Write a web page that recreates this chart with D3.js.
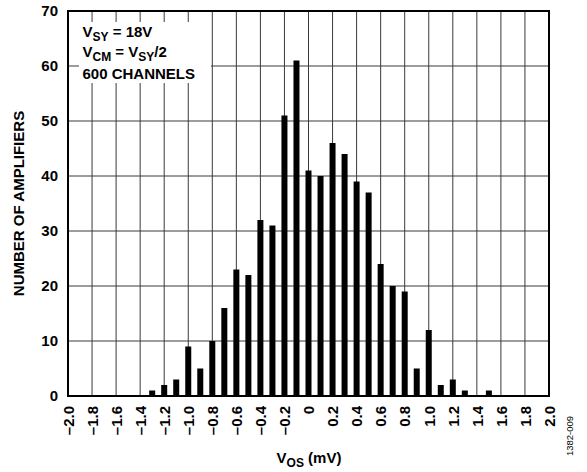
<!DOCTYPE html>
<html lang="en">
<head>
  <meta charset="UTF-8">
  <title>VOS distribution</title>
  <script src="https://cdn.jsdelivr.net/npm/d3@7"></script>
</head>
<body style="margin:0; background-color:#FFFFFF;">
<script>
  // bin centres (mV) and counts
  const vosBins = [-1.3, -1.2, -1.1, -1.0, -0.9, -0.8, -0.7, -0.6, -0.5, -0.4, -0.3, -0.2, -0.1,
    0, 0.1, 0.2, 0.3, 0.4, 0.5, 0.6, 0.7, 0.8, 0.9, 1.0, 1.1, 1.2, 1.3, 1.4, 1.5];
  const counts = [1, 2, 3, 9, 5, 10, 16, 23, 22, 32, 31, 51, 61,
    41, 40, 46, 44, 39, 37, 24, 20, 19, 5, 12, 2, 3, 1, 0, 1];
  const xTicks = [-2.0, -1.8, -1.6, -1.4, -1.2, -1.0, -0.8, -0.6, -0.4, -0.2, 0, 0.2, 0.4, 0.6, 0.8, 1.0, 1.2, 1.4, 1.6, 1.8, 2.0];
  const yTicks = [0, 10, 20, 30, 40, 50, 60, 70];
  const noteLines = [
    [["V", ""], ["SY", "sub"], [" = 18V", ""]],
    [["V", ""], ["CM", "sub"], [" = V", ""], ["SY", "sub"], ["/2", ""]],
    [["600 CHANNELS", ""]]
  ];

  const width = 587, height = 472;
  const pLeft = 68, pRight = 549, pTop = 11, pBottom = 396;
  const font = "'Liberation Sans', Arial, sans-serif";

  const xScale = d3.scaleLinear().domain([-2, 2]).range([pLeft, pRight]);
  const yScale = d3.scaleLinear().domain([0, 70]).range([pBottom, pTop]);
  const fmt = d => d === 0 ? "0" : (d < 0 ? "\u2013" : "") + d3.format(".1f")(Math.abs(d));

  const svg = d3.select("body")
    .append("svg")
    .attr("width", width)
    .attr("height", height)
    .style("display", "block")
    .style("background-color", "#FFFFFF");

  // grid
  svg.append("g")
    .selectAll("line")
    .data(xTicks.slice(1, -1))
    .enter()
    .append("line")
    .attr("x1", d => xScale(d)).attr("x2", d => xScale(d))
    .attr("y1", pTop).attr("y2", pBottom)
    .attr("stroke", "#3a3a3a").attr("stroke-width", 1);

  svg.append("g")
    .selectAll("line")
    .data(yTicks.slice(1, -1))
    .enter()
    .append("line")
    .attr("x1", pLeft).attr("x2", pRight)
    .attr("y1", d => yScale(d)).attr("y2", d => yScale(d))
    .attr("stroke", "#3a3a3a").attr("stroke-width", 1);

  // note box
  svg.append("rect")
    .attr("x", 79).attr("y", 22)
    .attr("width", 132).attr("height", 61)
    .attr("fill", "#FFFFFF");

  const note = svg.append("g")
    .style("font-family", font)
    .style("font-weight", "bold")
    .attr("fill", "#000");
  const baselines = [37, 57, 79];
  noteLines.forEach((parts, i) => {
    const t = note.append("text")
      .attr("x", 82.5)
      .attr("y", baselines[i])
      .style("font-size", "15px");
    let shifted = false;
    parts.forEach(([s, kind]) => {
      const sub = kind === "sub";
      t.append("tspan")
        .attr("dy", sub === shifted ? 0 : (sub ? 3.5 : -3.5))
        .style("font-size", sub ? "12px" : "15px")
        .text(s);
      shifted = sub;
    });
  });

  // bars
  svg.append("g")
    .selectAll("rect")
    .data(vosBins.map((v, i) => ({ v, n: counts[i] })).filter(d => d.n > 0))
    .enter()
    .append("rect")
    .attr("x", d => xScale(d.v) - 3)
    .attr("y", d => yScale(d.n))
    .attr("width", 6)
    .attr("height", d => pBottom - yScale(d.n))
    .attr("fill", "#000");

  // frame
  svg.append("rect")
    .attr("x", pLeft).attr("y", pTop)
    .attr("width", pRight - pLeft).attr("height", pBottom - pTop)
    .attr("fill", "none")
    .attr("stroke", "#000")
    .attr("stroke-width", 2);

  // y axis labels
  const yAxis = svg.append("g")
    .attr("transform", `translate(${pLeft},0)`)
    .call(d3.axisLeft(yScale).tickValues(yTicks).tickSize(0).tickPadding(10).tickFormat(d3.format("d")));
  yAxis.select(".domain").remove();
  yAxis.selectAll("text")
    .style("font-family", font)
    .style("font-size", "15px")
    .style("font-weight", "bold")
    .attr("fill", "#000");

  // x axis labels, rotated
  const xAxis = svg.append("g")
    .attr("transform", `translate(0,${pBottom})`)
    .call(d3.axisBottom(xScale).tickValues(xTicks).tickSize(0).tickFormat(fmt));
  xAxis.select(".domain").remove();
  xAxis.selectAll("text")
    .attr("transform", "rotate(-90)")
    .attr("x", -10)
    .attr("y", 0)
    .attr("dy", "0.35em")
    .attr("text-anchor", "end")
    .style("font-family", font)
    .style("font-size", "15px")
    .style("font-weight", "bold")
    .attr("fill", "#000");

  // axis titles
  svg.append("text")
    .attr("transform", `translate(24,${(pTop + pBottom) / 2}) rotate(-90)`)
    .attr("text-anchor", "middle")
    .style("font-family", font)
    .style("font-size", "15px")
    .style("font-weight", "bold")
    .text("NUMBER OF AMPLIFIERS");

  const xt = svg.append("text")
    .attr("x", 309)
    .attr("y", 463)
    .attr("text-anchor", "middle")
    .style("font-family", font)
    .style("font-size", "15px")
    .style("font-weight", "bold");
  xt.append("tspan").text("V");
  xt.append("tspan").attr("dy", 3.5).style("font-size", "12px").text("OS");
  xt.append("tspan").attr("dy", -3.5).text(" (mV)");

  svg.append("text")
    .attr("transform", "translate(573,436) rotate(-90)")
    .attr("text-anchor", "middle")
    .style("font-family", font)
    .style("font-size", "9.5px")
    .text("1382-009");
</script>
</body>
</html>
